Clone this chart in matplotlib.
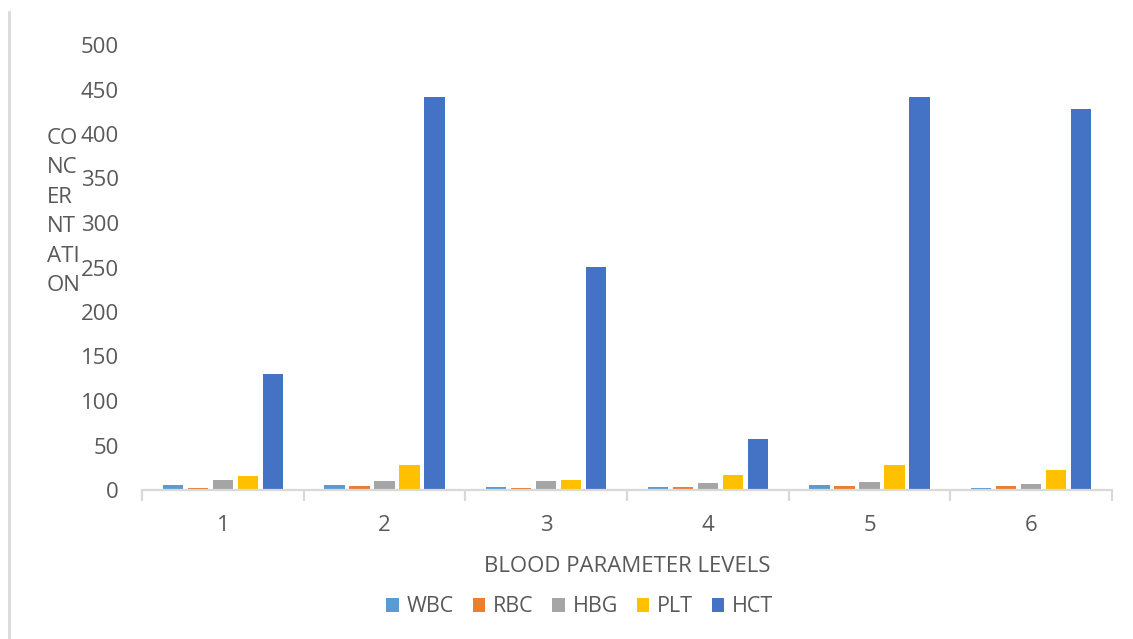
import matplotlib
matplotlib.use("Agg")
import matplotlib.pyplot as plt
from matplotlib.patches import Patch
from matplotlib.lines import Line2D
import numpy as np

plt.rcParams['font.family'] = ['Open Sans', 'DejaVu Sans']

levels = ["1", "2", "3", "4", "5", "6"]
series_names = ["WBC", "RBC", "HBG", "PLT", "HCT"]
wbc = [5.6, 5.6, 3.4, 3.4, 5.6, 2.2]
rbc = [2.3, 4.5, 2.2, 3.4, 4.5, 4.5]
hbg = [11.3, 10.0, 10.0, 7.9, 9.0, 6.7]
plt_vals = [16.0, 28.4, 11.2, 17.2, 28.4, 22.5]
hct = [130.0, 441.6, 250.6, 57.3, 441.6, 428.0]
series_values = [wbc, rbc, hbg, plt_vals, hct]
colors = ["#5B9BD5", "#ED7D31", "#A5A5A5", "#FFC000", "#4472C4"]
y_ticks = [0, 50, 100, 150, 200, 250, 300, 350, 400, 450, 500]

text_color = "#595959"
grid_color = "#D9D9D9"
fs = 16

W, H = 1133, 639
fig = plt.figure(figsize=(W / 100, H / 100), dpi=100)
ax = fig.add_axes([142 / W, 1 - 490 / H, (1112 - 142) / W, (490 - 45) / H])

x = np.arange(len(levels))
bar_w = 0.124
step = 0.1547
for i, (name, vals, c) in enumerate(zip(series_names, series_values, colors)):
    ax.bar(x + (i - 2) * step, vals, width=bar_w, color=c, label=name, zorder=2)

ax.set_xlim(-0.5, len(levels) - 0.5)
ax.set_ylim(0, 500)
ax.set_yticks(y_ticks)
ax.set_yticklabels([str(v) for v in y_ticks])
ax.set_xticks(x)
ax.set_xticklabels(levels)
ax.set_xticks(np.arange(-0.5, len(levels), 1.0), minor=True)

for s in ["top", "right", "left"]:
    ax.spines[s].set_visible(False)
ax.spines["bottom"].set_color(grid_color)
ax.spines["bottom"].set_linewidth(1.6)

ax.tick_params(axis="y", length=0, pad=16.5, labelsize=fs, labelcolor=text_color)
ax.tick_params(axis="x", which="major", length=0, pad=18, labelsize=fs, labelcolor=text_color)
ax.tick_params(axis="x", which="minor", length=8, width=1.6, color=grid_color)

fig.text(627 / W, 1 - 566 / H, "BLOOD PARAMETER LEVELS", ha="center", va="center",
         fontsize=fs, color=text_color)
fig.text(47 / W, 1 - 212 / H, "CO\nNC\nER\nNT\nATI\nON", ha="left", va="center",
         fontsize=fs, color=text_color, linespacing=1.53)

# chart frame edge on the left
fig.add_artist(Line2D([9 / W, 9 / W], [0, 1 - 12 / H], transform=fig.transFigure,
                      color=grid_color, linewidth=2))

handles = [Patch(facecolor=c, edgecolor="none") for c in colors]
leg = fig.legend(handles, series_names, loc="center", bbox_to_anchor=(580 / W, 1 - 607 / H),
                 ncol=5, frameon=False, fontsize=15.5, handlelength=0.58, handleheight=0.58,
                 handletextpad=0.38, columnspacing=0.85)
for t in leg.get_texts():
    t.set_color(text_color)

fig.savefig("out.png", dpi=100, facecolor="white")
